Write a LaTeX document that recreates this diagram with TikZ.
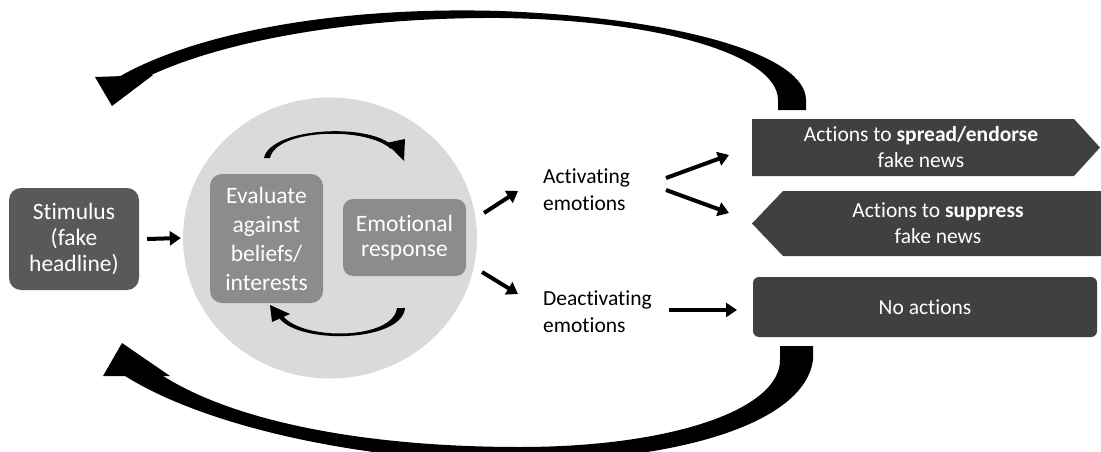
\documentclass[tikz,border=0pt]{standalone}
\usepackage{fontspec}
\setmainfont{Carlito}[Ligatures={NoCommon,NoContextual,NoRare},Contextuals=NoAlternate]
\usetikzlibrary{arrows.meta,shapes.geometric}
\definecolor{stimgray}{HTML}{595959}
\definecolor{midgray}{HTML}{8C8C8C}
\definecolor{circgray}{HTML}{DADADA}
\definecolor{darkbox}{HTML}{404040}
\tikzset{
  arr/.style={draw=black, line width=4pt, -{Triangle[length=11pt,width=14pt]}},
  lefttext/.style={text=white, align=center, inner sep=0pt, font=\fontsize{23.5}{26}\selectfont},
  midtext/.style={text=black, align=left, inner sep=0pt, anchor=west, font=\fontsize{21.5}{27}\selectfont},
  boxtext/.style={text=white, align=center, inner sep=0pt, font=\fontsize{21.5}{26}\selectfont},
}
\begin{document}
\begin{tikzpicture}[x=1pt,y=-1pt]
\useasboundingbox (0,0) rectangle (1101,452);
\clip (0,0) rectangle (1101,452);

% big grey circle
\node[ellipse, fill=circgray, minimum width=294pt, minimum height=281pt, inner sep=0pt] (circ) at (330,238) {};

% boxes on the left
\node[fill=stimgray, rounded corners=12pt, minimum width=130pt, minimum height=102pt, lefttext] (stim) at (74,239) {Stimulus\\(fake\\headline)};
\node[fill=midgray, rounded corners=12pt, minimum width=113pt, minimum height=129pt, lefttext, font=\fontsize{23.5}{29}\selectfont] (eval) at (266.5,238.5) {Evaluate\\against\\beliefs/\\interests};
\node[fill=midgray, rounded corners=10pt, minimum width=123pt, minimum height=77pt, lefttext, font=\fontsize{23.5}{25}\selectfont] (emo) at (404.5,237.5) {Emotional\\response};

% small circular arrows in the circle
\fill (264,158) .. controls (270,128) and (368,122) .. (393,146)
      -- (391,149) .. controls (366,126) and (276,129) .. (270,158) -- cycle;
\fill (386,143) -- (405,139) -- (404,161) -- cycle;
\fill (405,308) .. controls (402,342) and (300,345) .. (279,318)
      -- (283,316) .. controls (303,341) and (393,340) .. (397,308) -- cycle;
\fill (270,305) -- (272,322) -- (290,314) -- cycle;

% middle texts
\node[midtext] (act) at (543,190) {Activating\\emotions};
\node[midtext] (deact) at (543,312) {Deactivating\\emotions};

% right boxes
\fill[darkbox] (752,119) -- (1074,119) -- (1100,147.5) -- (1074,176) -- (752,176) -- cycle;
\node[boxtext] (spread) at (921,147.5) {Actions to \textbf{spread/endorse}\\fake news};
\fill[darkbox] (783,191) -- (1102,191) -- (1102,256) -- (783,256) -- (752,223.5) -- cycle;
\node[boxtext] (suppress) at (938,223.5) {Actions to \textbf{suppress}\\fake news};
\node[fill=darkbox, rounded corners=6pt, minimum width=344pt, minimum height=60pt, boxtext] (noact) at (925,307) {No actions};

% connectors
\coordinate (c1s) at (484,213); \coordinate (c1e) at (518,191);
\coordinate (c2s) at (482,272); \coordinate (c2e) at (518,294);
\coordinate (a1s) at (666,178); \coordinate (a1e) at (729,155);
\coordinate (a2s) at (666,190); \coordinate (a2e) at (729,213);
\coordinate (d1s) at (669,310); \coordinate (d1e) at (737,310);
\draw[arr] ([xshift=8pt]stim.east) -- ([xshift=-2pt]circ.west);
\draw[arr] (c1s) -- (c1e);
\draw[arr] (c2s) -- (c2e);
\draw[arr] (a1s) -- (a1e);
\draw[arr] (a2s) -- (a2e);
\draw[arr] (d1s) -- (d1e);

% top feedback arrow
\fill (806,110) -- (806,100) .. controls (806,55) and (680,18) .. (500,11)
      .. controls (330,6) and (190,35) .. (117,78)
      -- (143,79) .. controls (210,45) and (340,17) .. (500,18)
      .. controls (660,20) and (778,55) .. (778,100) -- (778,110) -- cycle;
\fill (95,77) -- (112,106) -- (153,75) -- cycle;

% bottom feedback arrow
\fill (813,346) -- (813,360) .. controls (805,420) and (690,460) .. (520,462)
      .. controls (360,462) and (200,425) .. (122,374)
      -- (160,374) .. controls (230,420) and (360,447) .. (520,447)
      .. controls (670,447) and (780,410) .. (780,360) -- (780,346) -- cycle;
\fill (103,376) -- (122,343) -- (170,376) -- cycle;
\end{tikzpicture}
\end{document}
